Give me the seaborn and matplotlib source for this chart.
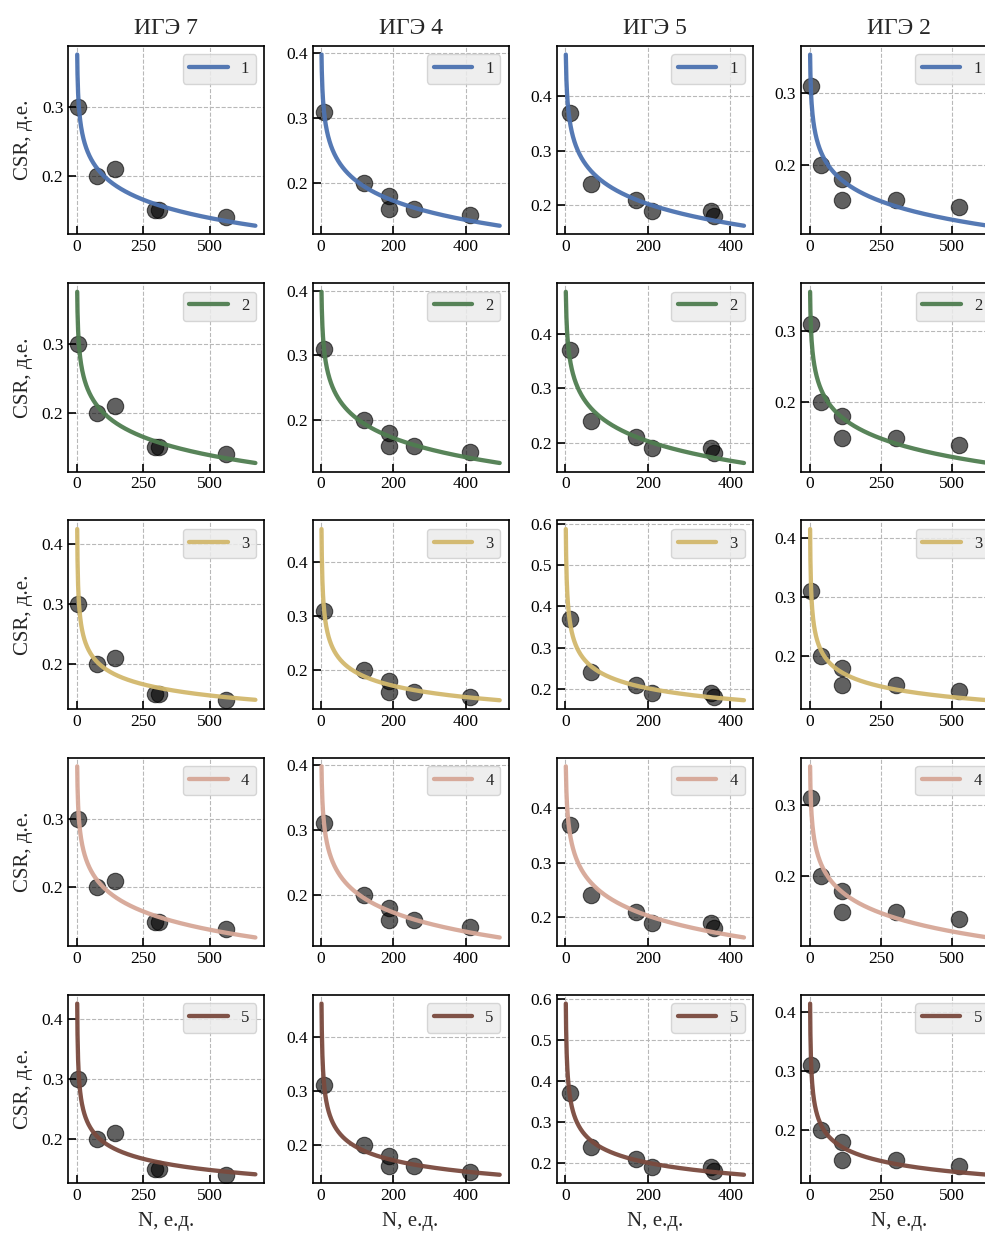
import numpy as np
import pandas as pd
import matplotlib
matplotlib.use("Agg")
import matplotlib.pyplot as plt
import seaborn as sns
from matplotlib.ticker import MultipleLocator, FormatStrFormatter

# ---------------- data ----------------
ige_titles = ["ИГЭ 7", "ИГЭ 4", "ИГЭ 5", "ИГЭ 2"]

n_ige7 = [5, 75, 142, 293, 309, 560]
csr_ige7 = [0.30, 0.20, 0.21, 0.15, 0.15, 0.14]
n_ige4 = [9, 118, 189, 189, 258, 412]
csr_ige4 = [0.31, 0.20, 0.18, 0.16, 0.16, 0.15]
n_ige5 = [10, 61, 172, 210, 353, 361]
csr_ige5 = [0.37, 0.24, 0.21, 0.19, 0.19, 0.18]
n_ige2 = [5, 38, 113, 113, 303, 522]
csr_ige2 = [0.31, 0.20, 0.18, 0.15, 0.15, 0.14]

n_data = [n_ige7, n_ige4, n_ige5, n_ige2]
csr_data = [csr_ige7, csr_ige4, csr_ige5, csr_ige2]

# fitted model parameters
# logarithmic model: CSR = a - b*ln(N)
log_a = [0.376, 0.398, 0.477, 0.3545]
log_b = [0.0382, 0.0426, 0.0518, 0.0373]
# power model: CSR = a * N^(-b)
pow_a = [0.425, 0.461, 0.588, 0.415]
pow_b = [0.1698, 0.187, 0.2026, 0.1868]

model_labels = ["1", "2", "3", "4", "5"]
model_kind = ["log", "log", "pow", "log", "pow"]
model_colors = ["#4C72B0", "#4F7D50", "#D2B86C", "#D6A797", "#7A4A3E"]
x_steps = [250, 200, 200, 250]

x_label = "N, е.д."
y_label = "CSR, д.е."

# ---------------- style ----------------
sns.set_theme(style="ticks")
plt.rcParams["font.family"] = ["Liberation Serif", "DejaVu Serif"]
plt.rcParams["axes.edgecolor"] = "black"

W, H = 985, 1234
fig = plt.figure(figsize=(W / 100, H / 100), dpi=100)

ax_w, ax_h = 196, 188.3
col_left = [68.3 + 244.3 * i for i in range(4)]
row_top = [46 + 237.25 * j for j in range(5)]

for r in range(5):
    for c in range(4):
        ax = fig.add_axes([col_left[c] / W, 1 - (row_top[r] + ax_h) / H, ax_w / W, ax_h / H])
        ax.set_axisbelow(True)
        ax.grid(True, ls="--", color="#b8b8b8", lw=0.8)

        df = pd.DataFrame({"N": n_data[c], "CSR": csr_data[c]})
        sns.scatterplot(data=df, x="N", y="CSR", ax=ax, s=140, color="black",
                        alpha=0.62, edgecolor="black", linewidth=0.8, zorder=2,
                        legend=False)

        nx = np.linspace(1, 1.2 * max(n_data[c]), 600)
        if model_kind[r] == "log":
            cy = log_a[c] - log_b[c] * np.log(nx)
        else:
            cy = pow_a[c] * nx ** (-pow_b[c])
        cdf = pd.DataFrame({"N": nx, "CSR": cy})
        sns.lineplot(data=cdf, x="N", y="CSR", ax=ax, color=model_colors[r],
                     lw=3.1, label=model_labels[r], zorder=3, alpha=0.95)

        ax.legend(loc="upper right", fontsize=12, facecolor="#ebebeb",
                  edgecolor="#d0d0d0", framealpha=0.85, fancybox=True,
                  handlelength=2.3)

        ax.xaxis.set_major_locator(MultipleLocator(x_steps[c]))
        ax.yaxis.set_major_locator(MultipleLocator(0.1))
        ax.yaxis.set_major_formatter(FormatStrFormatter("%.1f"))
        ax.tick_params(direction="in", length=6, width=1.2, labelsize=12.5,
                       colors="black")
        for sp in ax.spines.values():
            sp.set_linewidth(1.2)
            sp.set_color("black")

        ax.set_xlabel(x_label if r == 4 else "", fontsize=15, labelpad=6)
        ax.set_ylabel(y_label if c == 0 else "", fontsize=15, labelpad=6)
        if r == 0:
            ax.set_title(ige_titles[c], fontsize=17, pad=9)

fig.savefig("out.png", dpi=100)
